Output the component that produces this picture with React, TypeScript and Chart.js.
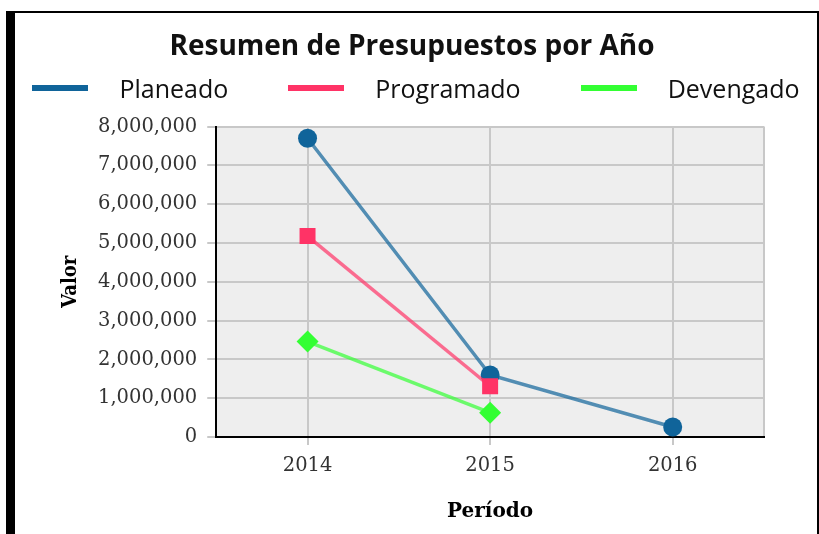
import React, { useEffect, useRef } from 'react';
import { Chart, registerables } from 'chart.js';

Chart.register(...registerables);

const chartTitle = 'Resumen de Presupuestos por Año';
const xTitle = 'Período';
const yTitle = 'Valor';
const periods = ['2014', '2015', '2016'];
const seriesNames = ['Planeado', 'Programado', 'Devengado'];
const planeado = [7700000, 1600000, 260000];
const programado = [5180000, 1310000, null];
const devengado = [2460000, 630000, null];
const yTickValues = [0, 1000000, 2000000, 3000000, 4000000, 5000000, 6000000, 7000000, 8000000];
const seriesColors = ['#10649a', '#ff3366', '#33ff33'];
const lineColors = ['rgba(16,100,154,0.7)', 'rgba(255,51,102,0.7)', 'rgba(51,255,51,0.7)'];
const pointStyles = ['circle', 'rect', 'rectRot'];
const pointRadii = [9.5, 11.3, 11];

const plotBackground = {
  id: 'plotBackground',
  beforeDraw(chart: any) {
    const { ctx, chartArea: a } = chart;
    if (!a) return;
    ctx.save();
    ctx.fillStyle = '#eeeeee';
    ctx.fillRect(a.left, a.top, a.right - a.left, a.bottom - a.top);
    ctx.strokeStyle = '#c8c8c8';
    ctx.lineWidth = 2;
    ctx.beginPath();
    ctx.moveTo(Math.round(a.right), a.top);
    ctx.lineTo(Math.round(a.right), a.bottom);
    ctx.stroke();
    ctx.restore();
  },
};

export default function App() {
  const ref = useRef<HTMLCanvasElement | null>(null);

  useEffect(() => {
    if (!ref.current) return;
    const series = [planeado, programado, devengado];
    const chart = new Chart(ref.current, {
      type: 'line',
      data: {
        labels: periods,
        datasets: series.map((values, i) => ({
          label: seriesNames[i],
          data: values,
          borderColor: lineColors[i],
          backgroundColor: seriesColors[i],
          pointBackgroundColor: seriesColors[i],
          pointBorderColor: seriesColors[i],
          pointBorderWidth: 0,
          pointStyle: pointStyles[i] as any,
          pointRadius: pointRadii[i],
          borderWidth: 3.5,
          tension: 0,
          fill: false,
          order: 3 - i,
        })),
      },
      options: {
        animation: false,
        responsive: false,
        events: [],
        layout: { padding: { left: 24, right: 32, top: 0, bottom: 9.5 } },
        plugins: {
          legend: { display: false },
          tooltip: { enabled: false },
          title: {
            display: true,
            text: chartTitle,
            color: '#111',
            font: { family: 'Open Sans', size: 28, weight: 'bold' as any },
            padding: { top: 17, bottom: 63 },
          },
        },
        scales: {
          x: {
            type: 'category',
            offset: true,
            grid: { offset: false, color: '#c8c8c8', lineWidth: 2, tickLength: 8 },
            border: { color: '#000', width: 2 },
            ticks: { color: '#333', padding: 9.5, font: { family: 'DejaVu Serif', size: 19.5 } },
            title: {
              display: true,
              text: xTitle,
              color: '#000',
              font: { family: 'DejaVu Serif', size: 20, weight: 'bold' as any },
              padding: { top: 12, bottom: 1 },
            },
          },
          y: {
            type: 'linear',
            min: 0,
            max: 8000000,
            afterBuildTicks: (scale: any) => {
              scale.ticks = yTickValues.map((v) => ({ value: v }));
            },
            grid: { color: '#c8c8c8', lineWidth: 2, tickLength: 9 },
            border: { color: '#000', width: 2 },
            ticks: {
              color: '#333',
              padding: 10,
              font: { family: 'DejaVu Serif', size: 19.5 },
              callback: (v: any) => Number(v).toLocaleString('en-US'),
            },
            title: {
              display: true,
              text: yTitle,
              color: '#000',
              font: { family: 'DejaVu Serif Condensed', size: 20, weight: 'bold' as any },
              padding: { top: 20, bottom: 5 },
            },
          },
          y2: {
            type: 'linear',
            position: 'right',
            display: true,
            grid: { display: false },
            border: { display: false },
            ticks: { display: false },
            afterFit: (scale: any) => {
              scale.width = 21;
            },
          },
        },
      },
      plugins: [plotBackground],
    });
    return () => chart.destroy();
  }, []);

  return (
    <div
      style={{
        position: 'absolute',
        left: 6,
        top: 11,
        width: 802,
        height: 521,
        borderLeft: '9px solid #000',
        borderTop: '2px solid #000',
        borderRight: '2px solid #000',
        background: '#fff',
        overflow: 'hidden',
      }}
    >
      <canvas ref={ref} width={802} height={521} style={{ display: 'block' }} />
      <div
        style={{
          position: 'absolute',
          left: 0,
          top: 60,
          width: 802,
          height: 30,
          display: 'flex',
          justifyContent: 'center',
          alignItems: 'center',
          gap: 60,
          fontFamily: "'Open Sans'",
          fontSize: 25,
          color: '#111',
        }}
      >
        {seriesNames.map((name, i) => (
          <div key={name} style={{ display: 'flex', alignItems: 'center' }}>
            <span style={{ display: 'inline-block', width: 56, height: 6, background: seriesColors[i], marginRight: 31 }} />
            <span style={{ lineHeight: '30px' }}>{name}</span>
          </div>
        ))}
      </div>
    </div>
  );
}
